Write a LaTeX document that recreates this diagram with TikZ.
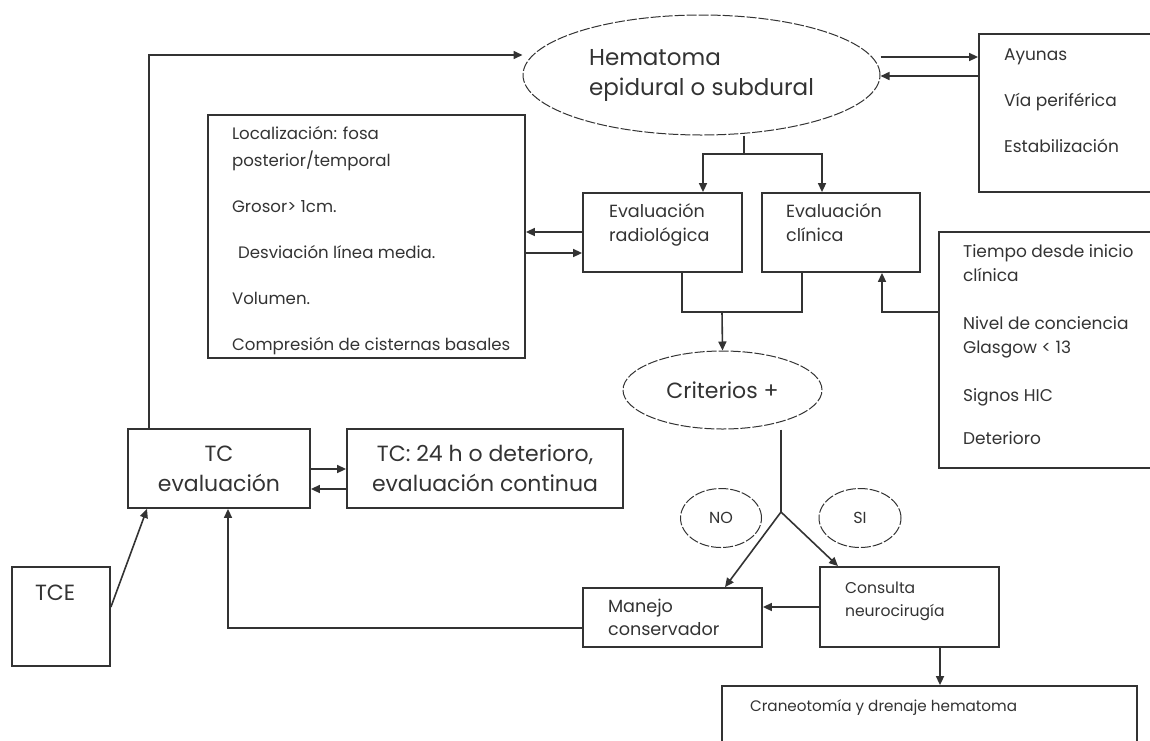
\documentclass[tikz,border=0pt]{standalone}
\usepackage{fontspec}
\setmainfont{Poppins}
\usetikzlibrary{arrows.meta,shapes.geometric}

\begin{document}
\begin{tikzpicture}[x=0.5pt, y=-0.5pt, color=black!80,
	>={Triangle[length=4.5pt, width=4pt]},
	box/.style={draw, line width=0.9pt, inner sep=0pt},
	oval/.style={draw, ellipse, line width=0.5pt, inner sep=0pt, dash pattern=on 5pt off 1pt},
	big/.style={font=\fontsize{11}{15}\selectfont},
	small/.style={font=\fontsize{8.5}{12}\selectfont}]

\useasboundingbox (0,0) rectangle (1150,740);

%% Hematoma y medidas generales
%% (texto de varias lineas: base = ultima linea)
\node[oval, big, font=\fontsize{11.5}{15}\selectfont, minimum width=178.5pt, minimum height=60pt, align=left] (hema) at (701.5,75) {Hematoma\\epidural o subdural};
\node[box, minimum width=93pt, minimum height=79pt] (ayunas) at (1072,113) {};
\node[small, font=\fontsize{8.5}{23}\selectfont, anchor=base west, align=left] (ayunas-txt) at (997,152) {Ayunas\\Vía periférica\\Estabilización};

%% Evaluacion
\node[box, minimum width=158.5pt, minimum height=121.5pt] (loc) at (366.5,236.5) {};
\node[small, font=\fontsize{8.3}{13.5}\selectfont, anchor=base west, align=left] (loc-txt) at (225,350)
	{Localización: fosa\\posterior/temporal\\[9.5pt]Grosor> 1cm.\\[9.5pt]\hspace*{3pt}Desviación línea media.\\[9.5pt]Volumen.\\[9.5pt]Compresión de cisternas basales};
\node[box, minimum width=79.5pt, minimum height=39.5pt] (rad) at (662.5,232.5) {};
\node[small, font=\fontsize{8.8}{12}\selectfont, anchor=base west, align=left] (rad-txt) at (602,241) {Evaluación\\radiológica};
\node[box, minimum width=79pt, minimum height=39.5pt] (clin) at (841,232.5) {};
\node[small, font=\fontsize{8.8}{12}\selectfont, anchor=base west, align=left] (clin-txt) at (779,241) {Evaluación\\clínica};
\node[box, minimum width=113pt, minimum height=118pt] (tiempo) at (1052,350) {};
\node[small, anchor=base west, align=left] (tiempo-txt) at (956,444)
	{Tiempo desde inicio\\clínica\\[12pt]Nivel de conciencia\\Glasgow < 13\\[12pt]Signos HIC\\[9.5pt]Deterioro};

%% Criterios
\node[oval, big, minimum width=99.5pt, minimum height=39pt] (crit) at (722.5,390) {Criterios +};
\node[oval, small, font=\fontsize{8}{12}\selectfont, minimum width=40.5pt, minimum height=29.5pt] (no) at (721,518) {NO};
\node[oval, small, font=\fontsize{8}{12}\selectfont, minimum width=41pt, minimum height=29.5pt] (si) at (860,518) {SI};

%% TC
\node[box, big, minimum width=91pt, minimum height=39.5pt, align=center] (tceval) at (219,468.5) {TC\\evaluación};
\node[box, big, minimum width=138pt, minimum height=39.5pt, align=center] (tc24) at (485,468.5) {TC: 24 h o deterioro,\\evaluación continua};
\node[box, minimum width=49pt, minimum height=49.5pt] (tce) at (61,616.5) {};
\node[big, anchor=base west] (tce-txt) at (28,600) {TCE};

%% Manejo
\node[box, minimum width=89.5pt, minimum height=29.5pt] (man) at (672.5,617.5) {};
\node[small, font=\fontsize{8.8}{11.5}\selectfont, anchor=base west, align=left] (man-txt) at (601,635) {Manejo\\conservador};
\node[box, minimum width=89.5pt, minimum height=40pt] (cons) at (909.5,607) {};
\node[small, font=\fontsize{7.8}{11.5}\selectfont, anchor=base west, align=left] (cons-txt) at (838,616) {Consulta\\neurocirugía};
\node[box, minimum width=207.5pt, minimum height=37pt] (cran) at (929.5,723) {};
\node[small, font=\fontsize{7.6}{12}\selectfont, anchor=base west] (cran-txt) at (743,711) {Craneotomía y drenaje hematoma};

%% Conexiones
\coordinate (hsplit) at (744,154);
\coordinate (rcjoin) at (722,312);
\coordinate (fork) at (781,512);

\draw[thick, ->] (tceval.north -| 149,0) |- (hema.west |- 0,55);
\draw[thick, ->] (hema.east |- 0,57) -- (ayunas.west |- 0,57);
\draw[thick, ->] (ayunas.west |- 0,76) -- (hema.east |- 0,76);

\draw[thick] (hema.south -| hsplit) -- (hsplit);
\draw[thick, ->] (hsplit) -| (rad.north -| 703,0);
\draw[thick, ->] (hsplit) -| (clin.north -| 822,0);
\draw[thick, ->] (rad.west |- 0,232) -- (loc.east |- 0,232);
\draw[thick, ->] (loc.east |- 0,253) -- (rad.west |- 0,253);

\draw[thick] (rad.south -| 682,0) |- (rcjoin) -| (clin.south -| 802,0);
\draw[thick, ->] (rcjoin) -- (crit.north);
\draw[thick, ->] (tiempo.west |- 0,312) -| (clin.south -| 882,0);

\draw[thick] (crit.south -| fork) -- (fork);
\draw[thick, ->] (fork) -- (man.north -| 725,0);
\draw[thick, ->] (fork) -- (cons.north -| 838,0);
\draw[thick, ->] (cons.west |- 0,607) -- (man.east |- 0,607);
\draw[thick, ->] (man.west |- 0,628) -| (tceval.south -| 228,0);
\draw[thick, ->] (cons.south -| 940,0) -- (cran.north -| 940,0);

\draw[thick, ->] (tceval.east |- 0,469) -- (tc24.west |- 0,469);
\draw[thick, ->] (tc24.west |- 0,489) -- (tceval.east |- 0,489);
\draw[thick, ->] (tce.east |- 0,607) -- (tceval.south -| 147,0);

\end{tikzpicture}
\end{document}
